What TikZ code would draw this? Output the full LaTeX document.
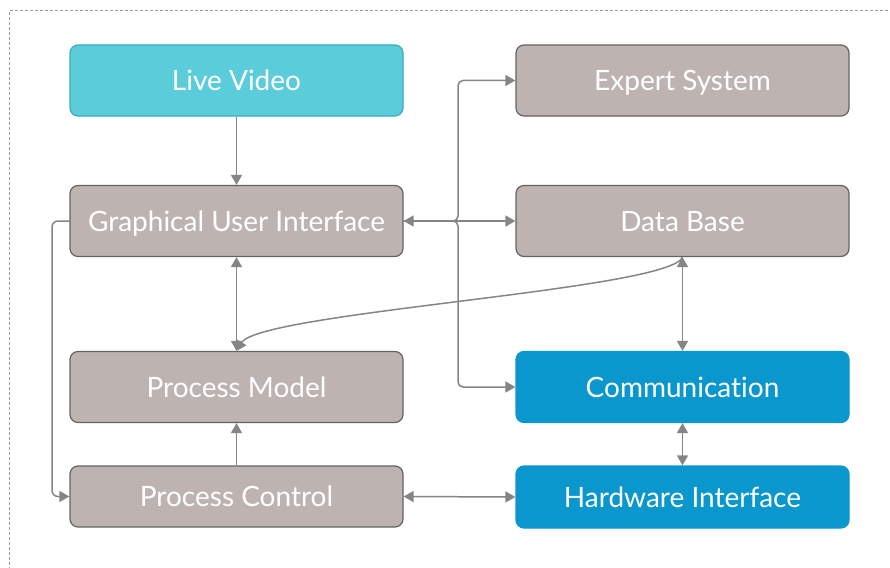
\documentclass[tikz,border=0pt]{standalone}
\usepackage{fontspec}
\setmainfont[Ligatures={NoCommon}]{Lato}
\usetikzlibrary{arrows.meta}
\definecolor{boxgrey}{HTML}{BDB4B2}
\definecolor{boxedge}{HTML}{666262}
\definecolor{cyanfill}{HTML}{5BCCDA}
\definecolor{cyanedge}{HTML}{3AAEBB}
\definecolor{bluefill}{HTML}{0A97CE}
\definecolor{wire}{HTML}{858585}
\definecolor{frame}{HTML}{9A9A9A}
\tikzset{
  block/.style={rounded corners=8pt, minimum width=333pt, minimum height=71pt,
    text=white, font=\fontsize{28}{32}\selectfont, inner sep=0pt, line width=1.2pt,
    text depth=0pt, yshift=-1pt},
  greybox/.style={block, fill=boxgrey, draw=boxedge},
  cyanbox/.style={block, fill=cyanfill, draw=cyanedge},
  bluebox/.style={block, fill=bluefill, draw=bluefill},
  wireline/.style={draw=wire, line width=1.5pt},
  oneway/.style={wireline, -{Triangle[length=10pt,width=11pt]}},
  twoway/.style={wireline, {Triangle[length=10pt,width=11pt]}-{Triangle[length=10pt,width=11pt]}}
}
\begin{document}
\begin{tikzpicture}[x=1pt,y=-1pt]
\useasboundingbox (0,0) rectangle (890,567);
% dashed outer frame, running off the right and bottom edges
\draw[frame, line width=1pt, dash pattern=on 3pt off 2pt] (9.5,580) -- (9.5,10.5) -- (900,10.5);

% left column
\node[cyanbox] (lv) at (236.5,79.5) {Live Video};
\node[greybox] (gui) at (236.5,220) {Graphical User Interface};
\node[greybox] (pm) at (236.5,386) {Process Model};
\node[greybox, minimum height=61pt] (pc) at (236.5,495.5) {Process Control};
% right column
\node[greybox] (es) at (682.5,79.5) {Expert System};
\node[greybox] (db) at (682.5,220) {Data Base};
\node[bluebox] (com) at (682.5,386) {Communication};
\node[bluebox, minimum height=62pt] (hw) at (682.5,496) {Hardware Interface};

\coordinate (jx) at (458,220);
\coordinate (lx) at (52,220);

% connectors
\draw[oneway] (lv.south) -- (gui.north);
\draw[twoway] (gui.east) -- (db.west);
\draw[oneway, rounded corners=5pt] (gui.east) -| (jx |- es.west) -- (es.west);
\draw[oneway, rounded corners=5pt] (gui.east) -| (jx |- com.west) -- (com.west);
\draw[twoway] (gui.south) -- (pm.north);
\draw[oneway] (db.south) .. controls (670,290) and (260,312) .. (pm.north);
\draw[twoway] (db.south) -- (com.north);
\draw[twoway] (com.south) -- (hw.north);
\draw[oneway] (pc.north) -- (pm.south);
\draw[twoway] (pc.east) -- (hw.west);
\draw[oneway, rounded corners=6pt] (gui.west) -| (lx |- pc.west) -- (pc.west);
\end{tikzpicture}
\end{document}
